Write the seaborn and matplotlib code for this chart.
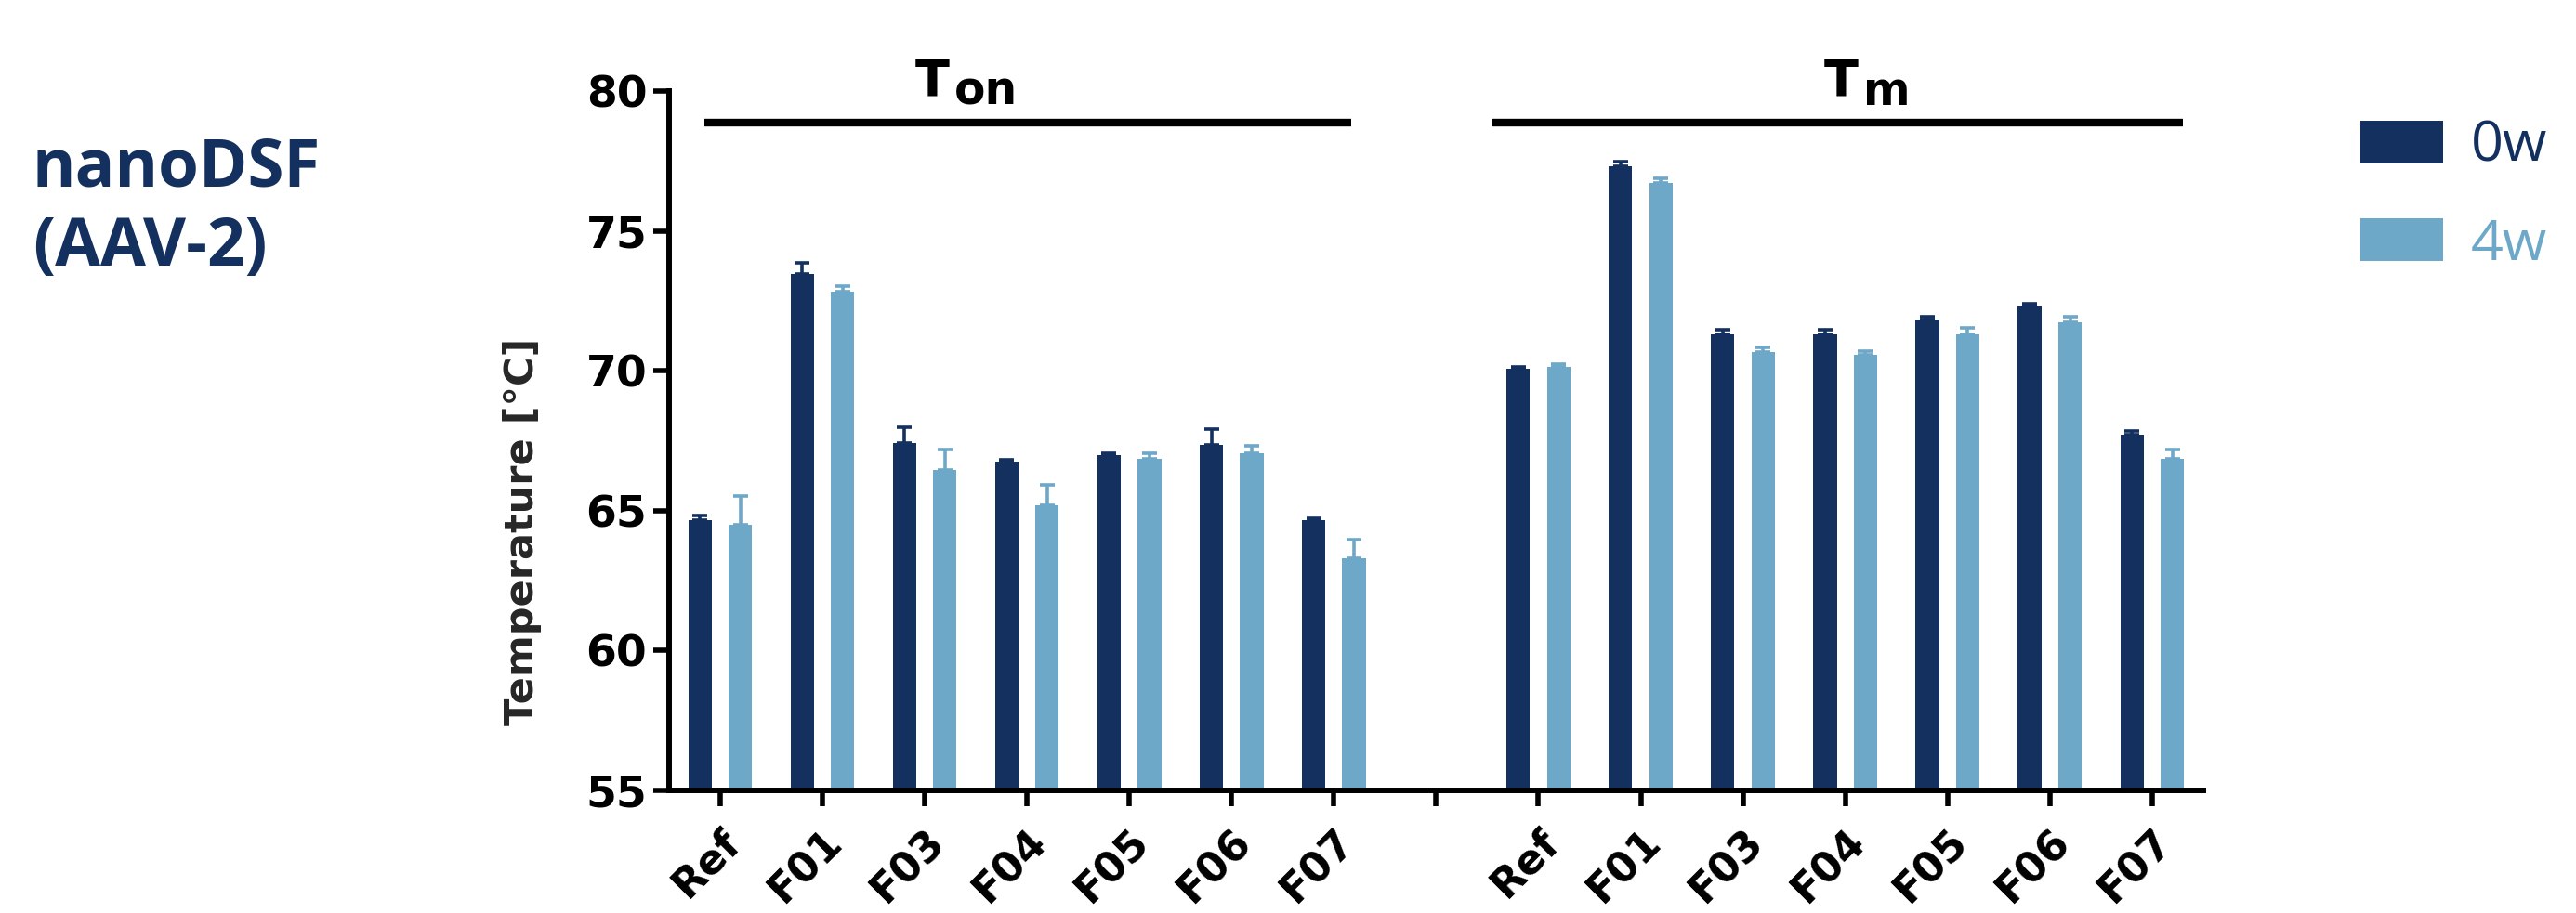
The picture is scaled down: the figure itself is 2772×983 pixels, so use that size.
import matplotlib
matplotlib.use("Agg")
import matplotlib.pyplot as plt
from matplotlib.transforms import ScaledTranslation
import numpy as np
import pandas as pd
import seaborn as sns

# ---------------- data ----------------
formulations = ["Ref", "F01", "F03", "F04", "F05", "F06", "F07"]
time_points = ["0w", "4w"]
group_keys = ["on", "m"]
group_main = ["T", "T"]
group_sub = ["on", "m"]

ton_0w = [64.66, 73.47, 67.42, 66.75, 66.98, 67.37, 64.66]
ton_4w = [64.49, 72.85, 66.47, 65.20, 66.86, 67.07, 63.30]
ton_0w_sd = [0.17, 0.41, 0.58, 0.08, 0.09, 0.55, 0.09]
ton_4w_sd = [1.05, 0.18, 0.73, 0.73, 0.21, 0.24, 0.68]

tm_0w = [70.08, 77.34, 71.31, 71.31, 71.86, 72.34, 67.71]
tm_4w = [70.14, 76.73, 70.68, 70.59, 71.32, 71.75, 66.86]
tm_0w_sd = [0.07, 0.15, 0.16, 0.16, 0.09, 0.08, 0.14]
tm_4w_sd = [0.11, 0.17, 0.18, 0.14, 0.21, 0.20, 0.34]

y_ticks = [55, 60, 65, 70, 75, 80]

# ---------------- styling ----------------
dark = "#13305f"
light = "#6ea8c8"
palette = [dark, light]

sns.set_theme(style="ticks")
plt.rcParams["font.family"] = ["DejaVu Sans"]

# ---------------- table ----------------
values = {("on", "0w"): (ton_0w, ton_0w_sd), ("on", "4w"): (ton_4w, ton_4w_sd),
          ("m", "0w"): (tm_0w, tm_0w_sd), ("m", "4w"): (tm_4w, tm_4w_sd)}
rows = []
for g in group_keys:
    for t in time_points:
        v, s = values[(g, t)]
        for f, val, sd in zip(formulations, v, s):
            rows.append({"slot": f"{g}:{f}", "time": t, "value": val, "sd": sd})
df = pd.DataFrame(rows)

order = [f"on:{f}" for f in formulations] + ["gap"] + [f"m:{f}" for f in formulations]
tick_labels = formulations + [""] + formulations

# ---------------- figure ----------------
fig = plt.figure(figsize=(27.72, 9.83), dpi=100)
ax = fig.add_axes([0.2597, 0.1343, 0.5956, 0.7655])

sns.barplot(data=df, x="slot", y="value", hue="time", order=order,
            hue_order=time_points, palette=palette, saturation=1,
            width=0.79, gap=0.42, errorbar=None, ax=ax, linewidth=0)

# error bars (upward only), positioned from the drawn bars
bar_containers = list(ax.containers)
for ti, cont in enumerate(bar_containers):
    t = time_points[ti]
    for p in cont:
        xc = p.get_x() + p.get_width() / 2
        slot = order[int(round(xc))]
        sub = df[(df.slot == slot) & (df.time == t)]
        if sub.empty:
            continue
        sd = float(sub.sd.iloc[0])
        ax.errorbar([xc], [p.get_height()], yerr=[[0], [sd]], fmt="none",
                    ecolor=palette[ti], elinewidth=2.6, capsize=6,
                    capthick=2.6, zorder=3)

ax.set_ylim(55, 80)
ax.set_xlim(-0.5, len(order) - 0.5)
ax.set_yticks(y_ticks)
ax.set_xticks(range(len(order)))
ax.set_xticklabels(tick_labels, rotation=45, ha="right", rotation_mode="anchor",
                   fontsize=32, fontweight="bold", family="DejaVu Sans")
shift = ScaledTranslation(0.11, 0, fig.dpi_scale_trans)
for lab in ax.get_xticklabels():
    lab.set_transform(lab.get_transform() + shift)
for lab in ax.get_yticklabels():
    lab.set_fontsize(34)
    lab.set_fontweight("bold")
ax.set_xlabel("")
ax.set_ylabel("Temperature [°C]", fontsize=31, family="DejaVu Sans",
              fontweight="bold")
ax.yaxis.set_label_coords(-0.083, 0.37)

sns.despine(ax=ax)
for sp in ["left", "bottom"]:
    ax.spines[sp].set_linewidth(4.3)
    ax.spines[sp].set_color("black")
ax.tick_params(axis="both", direction="out", length=12, width=4, color="black",
               labelcolor="black")
ax.tick_params(axis="y", pad=5)
ax.tick_params(axis="x", pad=12)

# group header lines and labels
n = len(formulations)
spans = [(0 - 0.15, n - 1 + 0.17), (n + 1 - 0.45, 2 * n + 0.3)]
main_right = [2.24, 11.13]
for (x0, x1), mt, st, xr in zip(spans, group_main, group_sub, main_right):
    ax.plot([x0, x1], [78.9, 78.9], color="black", lw=6, clip_on=False,
            solid_capstyle="butt")
    ax.text(xr, 79.87, mt, ha="right", va="baseline", fontsize=39,
            fontweight="bold", color="black", clip_on=False)
    ax.text(xr + 0.05, 79.52, st, ha="left", va="baseline", fontsize=35,
            fontweight="bold", color="black", clip_on=False)

# legend
handles, labels = ax.get_legend_handles_labels()
leg = ax.legend(handles, labels, loc="upper left", bbox_to_anchor=(0.9163, 0.870),
                bbox_transform=fig.transFigure, frameon=False,
                prop={"family": "Open Sans", "size": 44},
                handlelength=1.45, handleheight=0.78, labelspacing=0.75,
                handletextpad=0.5, borderpad=0, borderaxespad=0)
for txt, c in zip(leg.get_texts(), palette):
    txt.set_color(c)

# title
fig.text(0.0126, 0.852, "nanoDSF\n(AAV-2)", ha="left", va="top",
         fontsize=51, fontweight="bold", family="Open Sans", color=dark,
         linespacing=1.25)

fig.savefig("out.png", dpi=100)
